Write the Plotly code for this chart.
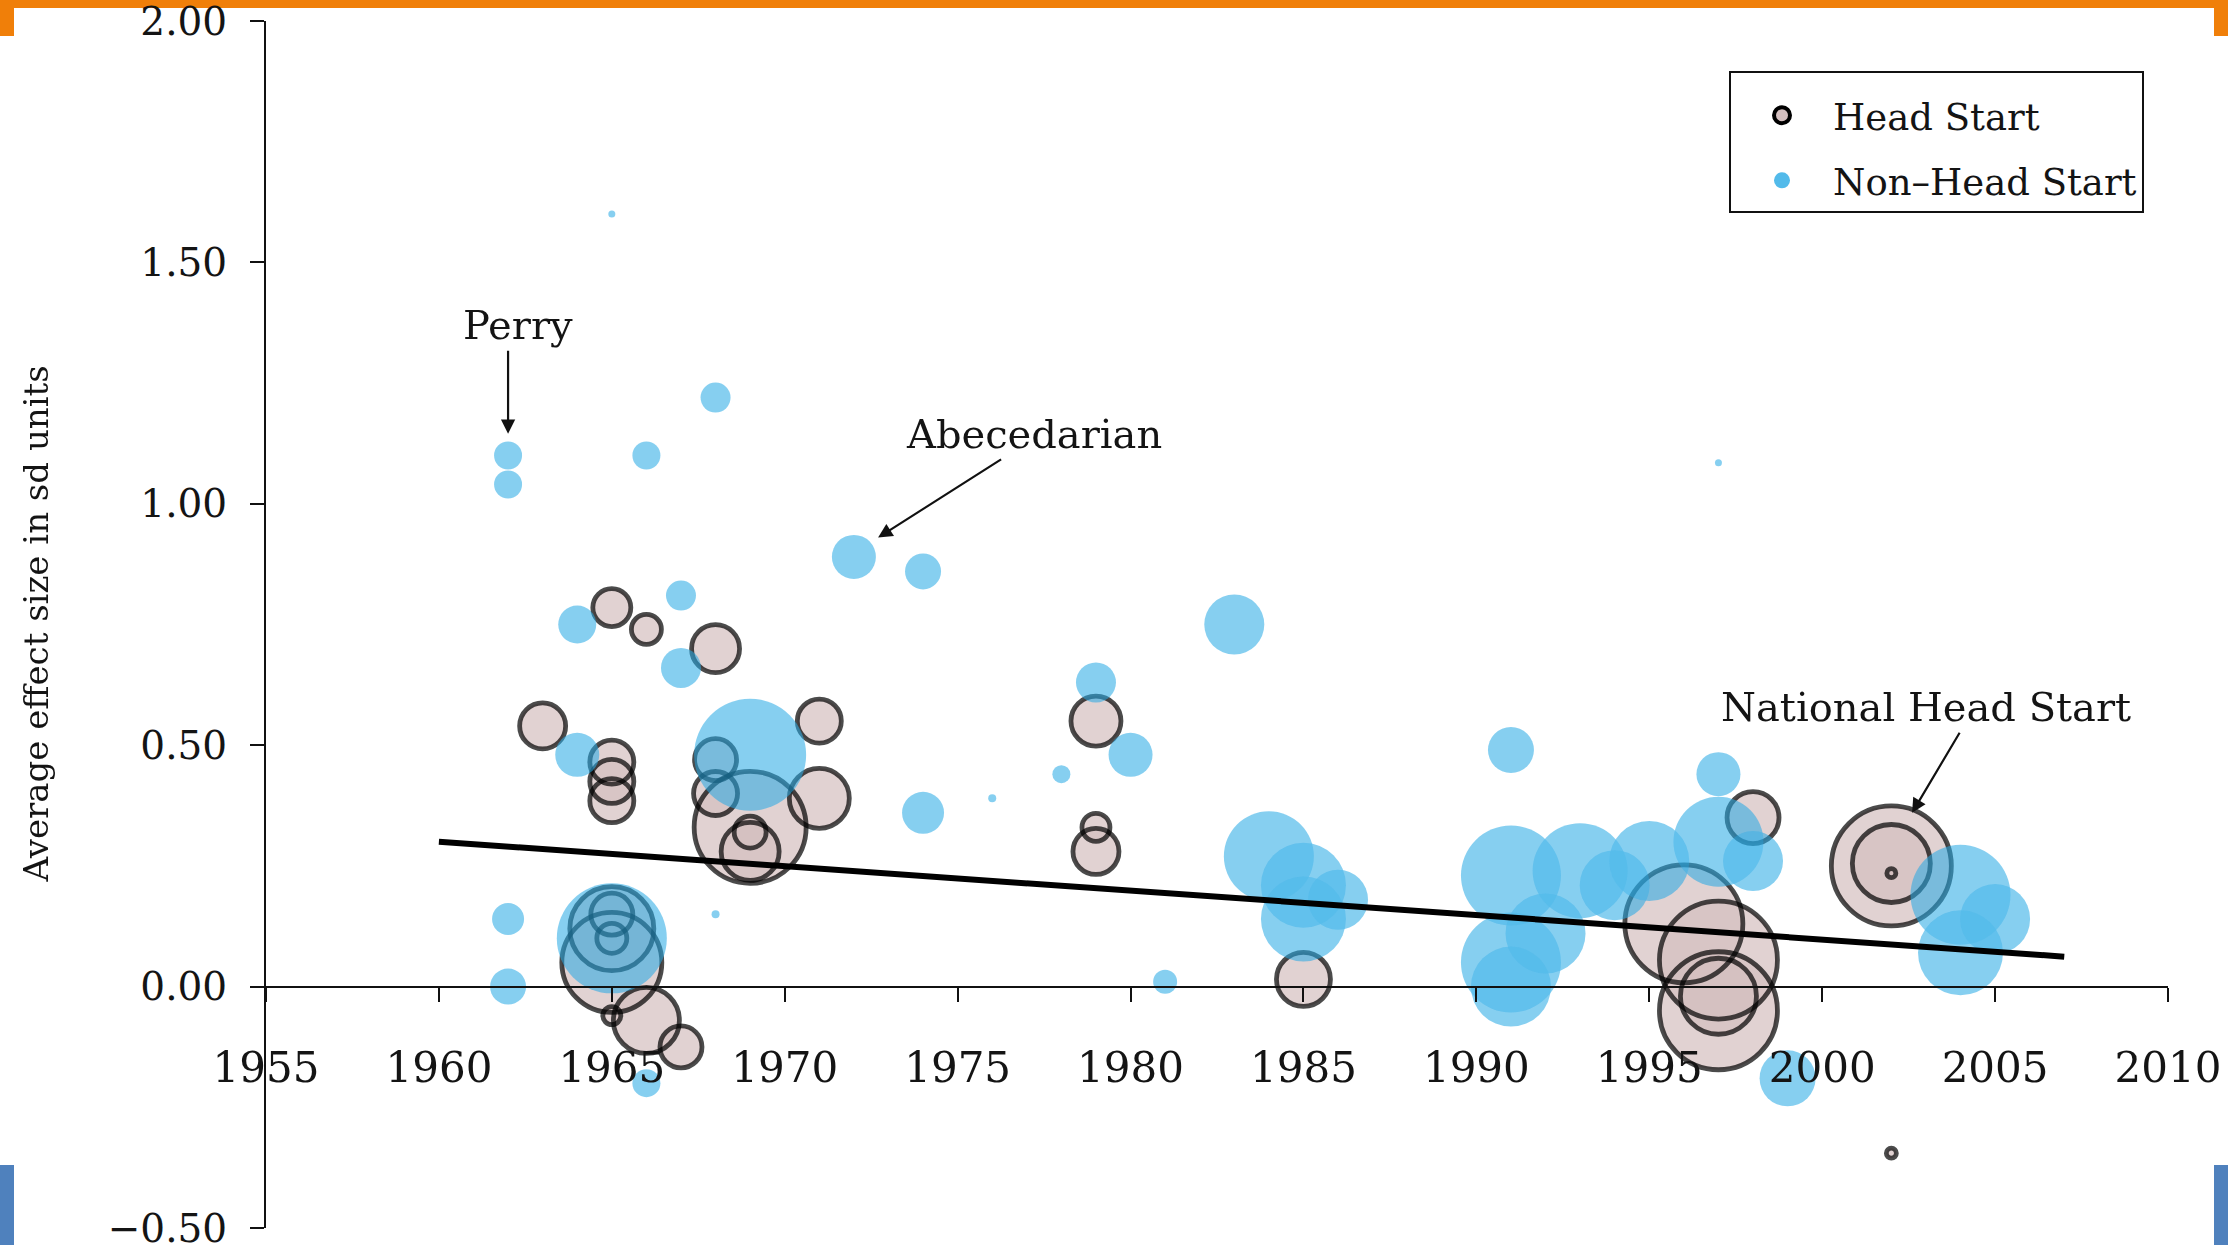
import plotly.graph_objects as go

# ---------------- data ----------------
hs_year = [1963, 1965, 1966, 1968, 1965, 1965, 1965, 1971, 1971, 1968, 1968, 1969, 1969, 1969,
           1965, 1965, 1965, 1965, 1965, 1966, 1967, 1979, 1979, 1979, 1985,
           1996, 1997, 1997, 1997, 1998, 2002, 2002, 2002, 2002]
hs_effect = [0.54, 0.785, 0.74, 0.70, 0.465, 0.425, 0.385, 0.55, 0.39, 0.47, 0.40, 0.33, 0.32, 0.28,
             0.15, 0.10, 0.12, 0.05, -0.06, -0.07, -0.125, 0.55, 0.33, 0.28, 0.015,
             0.13, 0.055, -0.05, -0.02, 0.35, 0.25, 0.255, 0.235, -0.345]
hs_weight = [4.6, 3.8, 3.0, 4.8, 4.4, 4.4, 4.4, 4.4, 6.0, 4.2, 4.4, 11.2, 3.2, 5.8,
             4.2, 3.0, 8.4, 10.0, 1.8, 6.6, 4.2, 5.0, 2.8, 4.6, 5.4,
             11.8, 11.8, 11.8, 7.6, 5.2, 12.0, 7.8, 0.9, 1.0]

nhs_year = [1962, 1962, 1966, 1968, 1965, 1997, 1972, 1974, 1964, 1967, 1967, 1964, 1969,
            1962, 1962, 1965, 1966, 1968, 1974, 1976, 1978, 1979, 1980, 1981, 1983,
            1984, 1985, 1985, 1986, 1991, 1991, 1993, 1994, 1991, 1991, 1992,
            1995, 1997, 1998, 1997, 1999, 2004, 2004, 2005]
nhs_effect = [1.10, 1.04, 1.10, 1.22, 1.60, 1.085, 0.89, 0.86, 0.75, 0.81, 0.66, 0.48, 0.48,
              0.14, 0.00, 0.10, -0.20, 0.15, 0.36, 0.39, 0.44, 0.63, 0.48, 0.01, 0.75,
              0.27, 0.21, 0.14, 0.18, 0.49, 0.23, 0.24, 0.21, 0.05, 0.00, 0.11,
              0.26, 0.30, 0.26, 0.44, -0.19, 0.19, 0.07, 0.14]
nhs_weight = [2.8, 2.8, 2.8, 3.0, 0.7, 0.7, 4.4, 3.6, 3.8, 3.0, 4.0, 4.4, 11.2,
              3.2, 3.6, 11.0, 2.8, 0.8, 4.2, 0.8, 1.8, 4.0, 4.4, 2.4, 6.0,
              9.0, 8.5, 8.5, 6.0, 4.6, 10.0, 9.5, 7.0, 10.0, 8.0, 8.0,
              8.0, 9.0, 6.0, 4.4, 5.6, 10.0, 8.5, 7.0]

fit_year = [1960, 2007]
fit_effect = [0.30, 0.062]

x_ticks = [1955, 1960, 1965, 1970, 1975, 1980, 1985, 1990, 1995, 2000, 2005, 2010]
y_ticks = [-0.5, 0.0, 0.5, 1.0, 1.5, 2.0]
y_tick_labels = ["\u22120.50", "0.00", "0.50", "1.00", "1.50", "2.00"]

# ---------------- styling ----------------
FONT = "DejaVu Serif"
TXT = "#141414"
HS_FILL = "#d4bfbf"
NHS_COL = "rgb(40,170,230)"
NHS_OPACITY = 0.8
W, H = 2228, 1245
ML, MR, MT, MB = 266, 60, 21, 17
PW, PH = W - ML - MR, H - MT - MB


def px_x(p):
    return (p - ML) / PW


def px_y(p):
    return (H - MB - p) / PH


fig = go.Figure()

# legend entries
fig.add_trace(go.Scatter(
    x=[None], y=[None], mode="markers", name="Head Start", legendgroup="hs",
    marker=dict(size=16, color=HS_FILL, line=dict(color="black", width=4))))
fig.add_trace(go.Scatter(
    x=[None], y=[None], mode="markers", name="Non\u2013Head Start", legendgroup="nhs",
    opacity=NHS_OPACITY, marker=dict(size=16, color=NHS_COL, line=dict(width=0))))

# Head Start: fills then outlines so every ring stays visible
fig.add_trace(go.Scatter(
    x=hs_year, y=hs_effect, mode="markers", showlegend=False, hoverinfo="skip",
    marker=dict(size=hs_weight, sizemode="diameter", sizeref=0.1, color=HS_FILL,
                line=dict(width=0))))
fig.add_trace(go.Scatter(
    x=hs_year, y=hs_effect, mode="markers", name="Head Start", showlegend=False,
    marker=dict(size=hs_weight, sizemode="diameter", sizeref=0.1, color="rgba(0,0,0,0)",
                line=dict(color="black", width=4.8))))

# Non-Head Start bubbles (trace-level opacity so overlaps merge into blobs)
fig.add_trace(go.Scatter(
    x=nhs_year, y=nhs_effect, mode="markers", name="Non\u2013Head Start", showlegend=False,
    opacity=NHS_OPACITY,
    marker=dict(size=nhs_weight, sizemode="diameter", sizeref=0.1, color=NHS_COL,
                line=dict(width=0))))

# fitted line
fig.add_trace(go.Scatter(
    x=fit_year, y=fit_effect, mode="lines", showlegend=False,
    line=dict(color="black", width=6)))

annotations = [
    dict(x=1962.3, y=1.37, text="Perry", showarrow=False, font=dict(size=40, color=TXT, family=FONT)),
    dict(x=1962, y=1.145, ax=1962, ay=1.32, axref="x", ayref="y", text="", showarrow=True,
         arrowhead=2, arrowsize=1.3, arrowwidth=2.2, arrowcolor="#111", standoff=0),
    dict(x=1977.2, y=1.144, text="Abecedarian", showarrow=False, font=dict(size=40, color=TXT, family=FONT)),
    dict(x=1972.7, y=0.93, ax=1976.3, ay=1.094, axref="x", ayref="y", text="", showarrow=True,
         arrowhead=2, arrowsize=1.3, arrowwidth=2.2, arrowcolor="#111", standoff=0),
    dict(x=2003.0, y=0.579, text="National Head Start", showarrow=False, font=dict(size=40, color=TXT, family=FONT)),
    dict(x=2002.6, y=0.36, ax=2004.0, ay=0.529, axref="x", ayref="y", text="", showarrow=True,
         arrowhead=2, arrowsize=1.3, arrowwidth=2.2, arrowcolor="#111", standoff=0),
    dict(xref="paper", yref="paper", x=px_x(35), y=0.5, text="Average effect size in sd units",
         textangle=-90, showarrow=False, xanchor="center", yanchor="middle",
         font=dict(size=34, color=TXT, family=FONT)),
]

shapes = [
    # slide decorations
    dict(type="rect", xref="paper", yref="paper", x0=px_x(0), x1=px_x(W), y0=px_y(8), y1=px_y(0),
         fillcolor="#f07f09", line=dict(width=0), layer="below"),
    dict(type="rect", xref="paper", yref="paper", x0=px_x(0), x1=px_x(14), y0=px_y(36), y1=px_y(0),
         fillcolor="#f07f09", line=dict(width=0), layer="below"),
    dict(type="rect", xref="paper", yref="paper", x0=px_x(2214), x1=px_x(W), y0=px_y(36), y1=px_y(0),
         fillcolor="#f07f09", line=dict(width=0), layer="below"),
    dict(type="rect", xref="paper", yref="paper", x0=px_x(0), x1=px_x(14), y0=px_y(H), y1=px_y(1165),
         fillcolor="#4f81bd", line=dict(width=0), layer="below"),
    dict(type="rect", xref="paper", yref="paper", x0=px_x(2214), x1=px_x(W), y0=px_y(H), y1=px_y(1165),
         fillcolor="#4f81bd", line=dict(width=0), layer="below"),
]

fig.update_layout(
    width=W, height=H,
    margin=dict(l=ML, r=MR, t=MT, b=MB, autoexpand=False),
    paper_bgcolor="white", plot_bgcolor="white",
    font=dict(family=FONT, color=TXT),
    showlegend=True,
    legend=dict(x=px_x(1729), y=px_y(71), xanchor="left", yanchor="top",
                bgcolor="white", bordercolor="#111", borderwidth=2,
                font=dict(size=37, family=FONT, color=TXT),
                title=dict(text="\u00a0", font=dict(size=9)),
                traceorder="grouped", tracegroupgap=14, itemwidth=92),
    annotations=annotations,
    shapes=shapes,
    xaxis=dict(range=[1955, 2010], anchor="free", position=0.2,
               tickvals=x_ticks, ticks="outside", ticklen=14, tickwidth=2, tickcolor="#111",
               showline=True, linecolor="#111", linewidth=2, showgrid=False, zeroline=False,
               tickfont=dict(size=42, family=FONT, color=TXT), ticklabelstandoff=30,
               ticklabeloverflow="allow"),
    yaxis=dict(range=[-0.5, 2.0], tickvals=y_ticks, ticktext=y_tick_labels,
               ticks="outside", ticklen=14, tickwidth=2, tickcolor="#111",
               showline=True, linecolor="#111", linewidth=2, showgrid=False, zeroline=False,
               tickfont=dict(size=39, family=FONT, color=TXT), ticklabelstandoff=15,
               ticklabeloverflow="allow"),
)

fig.write_html("out.html", config={"displayModeBar": False},
               post_script="document.body.style.margin='0';")
